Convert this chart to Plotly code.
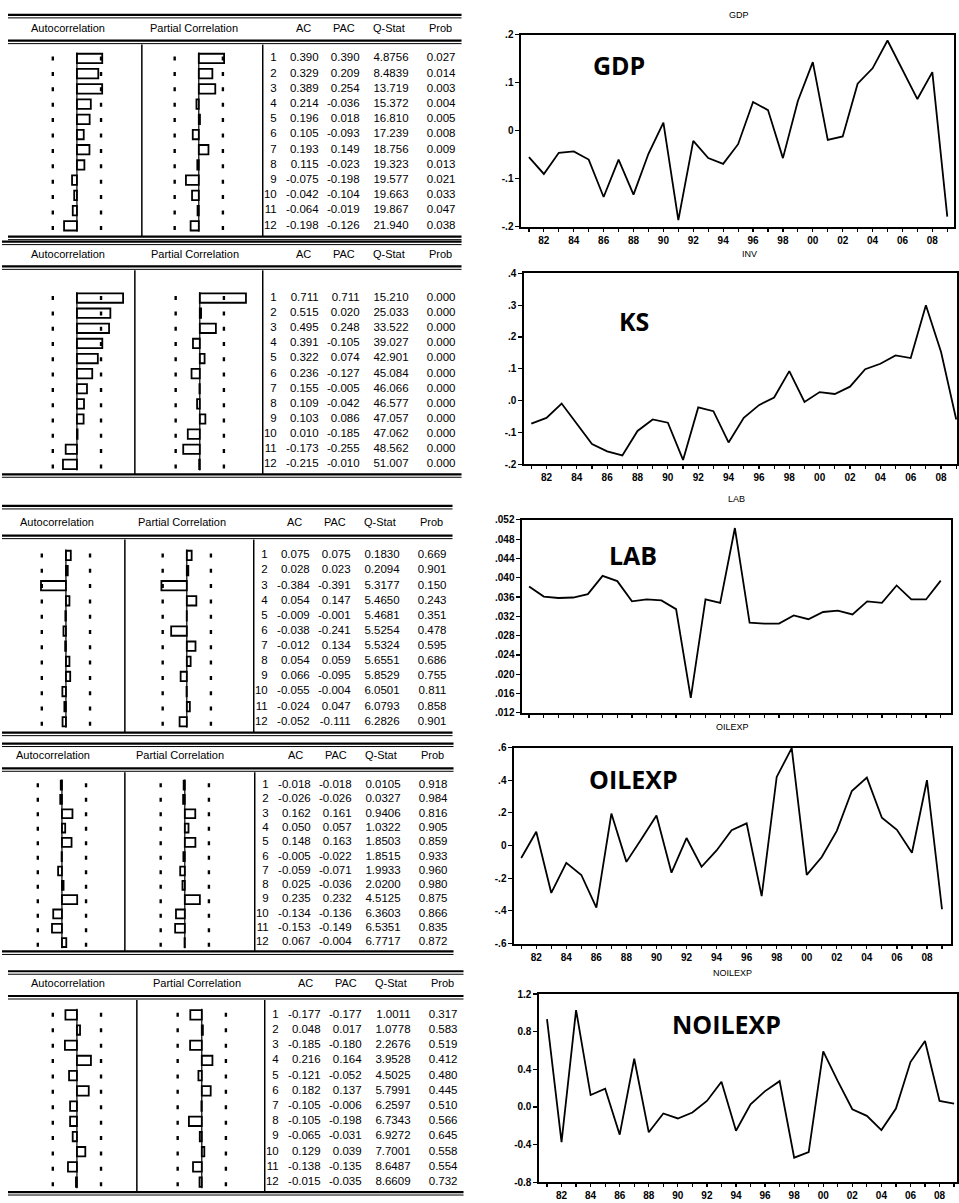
import math
import plotly.graph_objects as go

W, H = 959, 1203
SANS = "Liberation Sans, Arial, sans-serif"

# ---------------- data: time series (annual, 1981-2009) ----------------
years = list(range(1981, 2010))
year_ticktext = ["", "82", "", "84", "", "86", "", "88", "", "90", "", "92", "", "94", "",
                 "96", "", "98", "", "00", "", "02", "", "04", "", "06", "", "08", ""]

gdp = [-0.055, -0.090, -0.046, -0.043, -0.060, -0.138, -0.060, -0.133, -0.048, 0.017,
       -0.186, -0.021, -0.057, -0.069, -0.028, 0.060, 0.043, -0.057, 0.062, 0.143,
       -0.019, -0.012, 0.098, 0.130, 0.188, 0.128, 0.066, 0.122, -0.179]
ks = [-0.072, -0.054, -0.009, -0.074, -0.136, -0.159, -0.172, -0.095, -0.059, -0.069,
      -0.186, -0.021, -0.033, -0.131, -0.054, -0.014, 0.010, 0.093, -0.004, 0.027,
      0.021, 0.044, 0.099, 0.116, 0.142, 0.134, 0.300, 0.153, -0.059]
lab = [0.0382, 0.0361, 0.0358, 0.0359, 0.0366, 0.0404, 0.0393, 0.0351, 0.0355, 0.0353,
       0.0335, 0.0151, 0.0355, 0.0348, 0.0503, 0.0307, 0.0305, 0.0305, 0.0322, 0.0314,
       0.0329, 0.0332, 0.0324, 0.0351, 0.0348, 0.0384, 0.0355, 0.0355, 0.0394]
oilexp = [-0.076, 0.084, -0.290, -0.106, -0.180, -0.380, 0.196, -0.100, 0.040, 0.184,
          -0.166, 0.046, -0.130, -0.030, 0.094, 0.136, -0.310, 0.420, 0.596, -0.180,
          -0.070, 0.090, 0.334, 0.416, 0.170, 0.096, -0.044, 0.400, -0.390]
noilexp = [0.933, -0.375, 1.030, 0.126, 0.193, -0.295, 0.512, -0.270, -0.070, -0.123,
           -0.060, 0.063, 0.267, -0.253, 0.028, 0.168, 0.274, -0.540, -0.480, 0.590,
           0.274, -0.025, -0.095, -0.246, -0.018, 0.477, 0.700, 0.063, 0.035]

gdp_yticks = [-0.2, -0.1, 0.0, 0.1, 0.2]
gdp_ylabels = ["-.2", "-.1", "0", ".1", ".2"]
ks_yticks = [-0.2, -0.1, 0.0, 0.1, 0.2, 0.3, 0.4]
ks_ylabels = ["-.2", "-.1", ".0", ".1", ".2", ".3", ".4"]
lab_yticks = [0.012, 0.016, 0.020, 0.024, 0.028, 0.032, 0.036, 0.040, 0.044, 0.048, 0.052]
lab_ylabels = [".012", ".016", ".020", ".024", ".028", ".032", ".036", ".040", ".044", ".048", ".052"]
oil_yticks = [-0.6, -0.4, -0.2, 0.0, 0.2, 0.4, 0.6]
oil_ylabels = ["-.6", "-.4", "-.2", "0", ".2", ".4", ".6"]
noil_yticks = [-0.8, -0.4, 0.0, 0.4, 0.8, 1.2]
noil_ylabels = ["-0.8", "-0.4", "0.0", "0.4", "0.8", "1.2"]

# ---------------- data: correlograms ----------------
lags = list(range(1, 13))
n_obs = 29

gdp_ac = [0.390, 0.329, 0.389, 0.214, 0.196, 0.105, 0.193, 0.115, -0.075, -0.042, -0.064, -0.198]
gdp_pac = [0.390, 0.209, 0.254, -0.036, 0.018, -0.093, 0.149, -0.023, -0.198, -0.104, -0.019, -0.126]
gdp_q = [4.8756, 8.4839, 13.719, 15.372, 16.810, 17.239, 18.756, 19.323, 19.577, 19.663, 19.867, 21.940]
gdp_prob = [0.027, 0.014, 0.003, 0.004, 0.005, 0.008, 0.009, 0.013, 0.021, 0.033, 0.047, 0.038]

ks_ac = [0.711, 0.515, 0.495, 0.391, 0.322, 0.236, 0.155, 0.109, 0.103, 0.010, -0.173, -0.215]
ks_pac = [0.711, 0.020, 0.248, -0.105, 0.074, -0.127, -0.005, -0.042, 0.086, -0.185, -0.255, -0.010]
ks_q = [15.210, 25.033, 33.522, 39.027, 42.901, 45.084, 46.066, 46.577, 47.057, 47.062, 48.562, 51.007]
ks_prob = [0.000] * 12

lab_ac = [0.075, 0.028, -0.384, 0.054, -0.009, -0.038, -0.012, 0.054, 0.066, -0.055, -0.024, -0.052]
lab_pac = [0.075, 0.023, -0.391, 0.147, -0.001, -0.241, 0.134, 0.059, -0.095, -0.004, 0.047, -0.111]
lab_q = [0.1830, 0.2094, 5.3177, 5.4650, 5.4681, 5.5254, 5.5324, 5.6551, 5.8529, 6.0501, 6.0793, 6.2826]
lab_prob = [0.669, 0.901, 0.150, 0.243, 0.351, 0.478, 0.595, 0.686, 0.755, 0.811, 0.858, 0.901]

oil_ac = [-0.018, -0.026, 0.162, 0.050, 0.148, -0.005, -0.059, 0.025, 0.235, -0.134, -0.153, 0.067]
oil_pac = [-0.018, -0.026, 0.161, 0.057, 0.163, -0.022, -0.071, -0.036, 0.232, -0.136, -0.149, -0.004]
oil_q = [0.0105, 0.0327, 0.9406, 1.0322, 1.8503, 1.8515, 1.9933, 2.0200, 4.5125, 6.3603, 6.5351, 6.7717]
oil_prob = [0.918, 0.984, 0.816, 0.905, 0.859, 0.933, 0.960, 0.980, 0.875, 0.866, 0.835, 0.872]

noil_ac = [-0.177, 0.048, -0.185, 0.216, -0.121, 0.182, -0.105, -0.105, -0.065, 0.129, -0.138, -0.015]
noil_pac = [-0.177, 0.017, -0.180, 0.164, -0.052, 0.137, -0.006, -0.198, -0.031, 0.039, -0.135, -0.035]
noil_q = [1.0011, 1.0778, 2.2676, 3.9528, 4.5025, 5.7991, 6.2597, 6.7343, 6.9272, 7.7001, 8.6487, 8.6609]
noil_prob = [0.317, 0.583, 0.519, 0.412, 0.480, 0.445, 0.510, 0.566, 0.645, 0.558, 0.554, 0.732]

tables = [
    (gdp_ac, gdp_pac, gdp_q, gdp_prob),
    (ks_ac, ks_pac, ks_q, ks_prob),
    (lab_ac, lab_pac, lab_q, lab_prob),
    (oil_ac, oil_pac, oil_q, oil_prob),
    (noil_ac, noil_pac, noil_q, noil_prob),
]

# ---------------- layout geometry (pixels) ----------------
TABLE_GEOM = [
    dict(top=9, head=22, hline=35, r1=53, r12=222, bot=233, xl=8, ac0=77, pac0=199, sep1=142, sep2=263),
    dict(top=238, head=250, hline=263, r1=295, r12=463, bot=473, xl=2, ac0=77, pac0=200, sep1=135, sep2=263),
    dict(top=505, head=521, hline=535, r1=555, r12=723, bot=734, xl=2, ac0=66, pac0=187, sep1=125, sep2=254),
    dict(top=745, head=757, hline=770, r1=787, r12=946, bot=955, xl=2, ac0=62, pac0=185, sep1=125, sep2=255),
    dict(top=975, head=987, hline=1000, r1=1019, r12=1188, bot=1198, xl=8, ac0=77, pac0=202, sep1=137, sep2=265),
]
COL_OFF = [14, 56, 97, 146, 193]         # right edges of lag/AC/PAC/Q/Prob relative to sep2
HEAD_SHIFT = [None, -15, -16, -20, -15]  # header centre relative to column right edge
BAR_SCALE = 65.0                          # pixels per unit correlation

CHARTS = [
    dict(y=gdp, title="GDP", label="GDP", x0=522, x1=955, y0=29, y1=223, yr=[-0.2, 0.2],
         tv=gdp_yticks, tt=gdp_ylabels, xr=[1980.5, 2009.45], tpos=(740, 9), lpos=(620, 60), xl=True),
    dict(y=ks, title="INV", label="KS", x0=525, x1=958, y0=270, y1=463, yr=[-0.2, 0.4],
         tv=ks_yticks, tt=ks_ylabels, xr=[1980.55, 2009.05], tpos=(750, 250), lpos=(635, 318), xl=True),
    dict(y=lab, title="LAB", label="LAB", x0=523, x1=952, y0=519, y1=714, yr=[0.012, 0.052],
         tv=lab_yticks, tt=lab_ylabels, xr=[1980.55, 2009.7], tpos=(737, 498), lpos=(634, 555), xl=False),
    dict(y=oilexp, title="OILEXP", label="OILEXP", x0=515, x1=952, y0=749, y1=947, yr=[-0.6, 0.6],
         tv=oil_yticks, tt=oil_ylabels, xr=[1980.55, 2009.6], tpos=(733, 728), lpos=(634, 781), xl=True),
    dict(y=noilexp, title="NOILEXP", label="NOILEXP", x0=540, x1=958, y0=998, y1=1188, yr=[-0.8, 1.2],
         tv=noil_yticks, tt=noil_ylabels, xr=[1980.48, 2009.2], tpos=(733, 977), lpos=(727, 1028), xl=True),
]


def fx(p):
    return p / W


def fy(p):
    return 1 - p / H


fig = go.Figure()
axes = {}
cnt = {"x": 0, "y": 0}


def ref(kind, n):
    return kind if n == 1 else f"{kind}{n}"


def new_axis(kind, **kw):
    cnt[kind] += 1
    n = cnt[kind]
    axes[(f"{kind}axis" if n == 1 else f"{kind}axis{n}")] = kw
    return ref(kind, n)


shapes = []
annotations = []


def hline(y, x0, x1, w):
    shapes.append(dict(type="line", xref="paper", yref="paper", x0=fx(x0), x1=fx(x1),
                       y0=fy(y), y1=fy(y), line=dict(color="black", width=w)))


def vline(x, y0, y1, w):
    shapes.append(dict(type="line", xref="paper", yref="paper", x0=fx(x), x1=fx(x),
                       y0=fy(y0), y1=fy(y1), line=dict(color="black", width=w)))


def note(text, x, y, size, xanchor="center", family=SANS):
    annotations.append(dict(text=text, xref="paper", yref="paper", x=fx(x), y=fy(y),
                            xanchor=xanchor, yanchor="middle", showarrow=False,
                            font=dict(family=family, size=size, color="black")))


# shared text axis (pixel units across the page)
XT = new_axis("x", domain=[0, 1], range=[0, W], visible=False, fixedrange=True)

bound = 2 / math.sqrt(n_obs)

for geo, (ac, pac, q, prob) in zip(TABLE_GEOM, tables):
    s = (geo["r12"] - geo["r1"]) / 11
    cols = [geo["sep2"] + o for o in COL_OFF]
    xr_edge = cols[-1] + 6
    yname = new_axis("y", domain=[fy(geo["r12"] + s / 2), fy(geo["r1"] - s / 2)],
                     range=[12.5, 0.5], visible=False, fixedrange=True)
    dash = f"4px,{s - 4:.1f}px"
    y_start = 0.5 + (s / 2 - 2) / s
    for vals, zero in ((ac, geo["ac0"]), (pac, geo["pac0"])):
        xa = new_axis("x", domain=[fx(zero - 0.6 * BAR_SCALE), fx(zero + 0.8 * BAR_SCALE)],
                      range=[-0.6, 0.8], visible=False, fixedrange=True, anchor=yname)
        # confidence bounds (+/- 2/sqrt(T))
        fig.add_trace(go.Scatter(x=[-bound, -bound, None, bound, bound],
                                 y=[y_start, 12.5, None, y_start, 12.5], mode="lines",
                                 line=dict(color="black", width=2.4, dash=dash),
                                 xaxis=xa, yaxis=yname, hoverinfo="skip"))
        # zero line
        fig.add_trace(go.Scatter(x=[0, 0], y=[0.6, 12.4], mode="lines",
                                 line=dict(color="black", width=1.2),
                                 xaxis=xa, yaxis=yname, hoverinfo="skip"))
        fig.add_trace(go.Bar(x=vals, y=lags, orientation="h", width=0.62, base=0,
                             marker=dict(color="white", line=dict(color="black", width=1.8)),
                             xaxis=xa, yaxis=yname))
    texts = [
        [str(l) for l in lags],
        [f"{v:.3f}" for v in ac],
        [f"{v:.3f}" for v in pac],
        [f"{v:.4f}" if v < 10 else f"{v:.3f}" for v in q],
        [f"{v:.3f}" for v in prob],
    ]
    for cx, tx in zip(cols, texts):
        fig.add_trace(go.Scatter(x=[cx] * 12, y=lags, mode="text", text=tx,
                                 textposition="middle left", cliponaxis=False,
                                 textfont=dict(family=SANS, size=11.5, color="black"),
                                 xaxis=XT, yaxis=yname, hoverinfo="skip"))
    # rules
    for yy in (geo["top"], geo["hline"], geo["bot"]):
        hline(yy, geo["xl"], xr_edge, 2.2)
        hline(yy + 3, geo["xl"], xr_edge, 1)
    vline(geo["sep1"], geo["hline"] + 4, geo["bot"], 1.5)
    vline(geo["sep2"], geo["hline"] + 4, geo["bot"], 1.5)
    # headers
    note("Autocorrelation", geo["ac0"] - 9, geo["head"], 11)
    note("Partial Correlation", geo["pac0"] - 5, geo["head"], 11)
    for lab_txt, cx, sh in zip(["AC", "PAC", "Q-Stat", "Prob"], cols[1:], HEAD_SHIFT[1:]):
        note(lab_txt, cx + sh, geo["head"], 11)

# ---------------- line charts ----------------
for ch in CHARTS:
    xn = ref("x", cnt["x"] + 1)
    yn = ref("y", cnt["y"] + 1)
    new_axis("x", domain=[fx(ch["x0"]), fx(ch["x1"])], range=ch["xr"], anchor=yn,
             showline=True, mirror=True, linecolor="black", linewidth=2,
             ticks="outside", ticklen=3, tickwidth=1.2, tickcolor="black",
             tickvals=years, ticktext=year_ticktext, showticklabels=ch["xl"],
             showgrid=False, zeroline=False, fixedrange=True,
             tickfont=dict(family=SANS, size=10, color="black", weight="bold"))
    new_axis("y", domain=[fy(ch["y1"]), fy(ch["y0"])], range=ch["yr"], anchor=xn,
             showline=True, mirror=True, linecolor="black", linewidth=2,
             ticks="outside", ticklen=4, tickwidth=1.2, tickcolor="black",
             tickvals=ch["tv"], ticktext=ch["tt"], showgrid=False, zeroline=False,
             fixedrange=True, tickfont=dict(family=SANS, size=10, color="black", weight="bold"))
    fig.add_trace(go.Scatter(x=years, y=ch["y"], mode="lines", xaxis=xn, yaxis=yn,
                             line=dict(color="black", width=1.8)))
    note(ch["title"], ch["tpos"][0], ch["tpos"][1], 9)
    note("<b>" + ch["label"] + "</b>", ch["lpos"][0], ch["lpos"][1], 25, family="Open Sans")

fig.update_layout(
    width=W, height=H, autosize=False,
    margin=dict(l=0, r=0, t=0, b=0, pad=0),
    paper_bgcolor="white", plot_bgcolor="white",
    showlegend=False, barmode="overlay",
    shapes=shapes, annotations=annotations,
    **axes,
)

fig.write_html("out.html", config={"displayModeBar": False, "staticPlot": True},
               post_script="document.body.style.margin='0';document.body.style.overflow='hidden';")
